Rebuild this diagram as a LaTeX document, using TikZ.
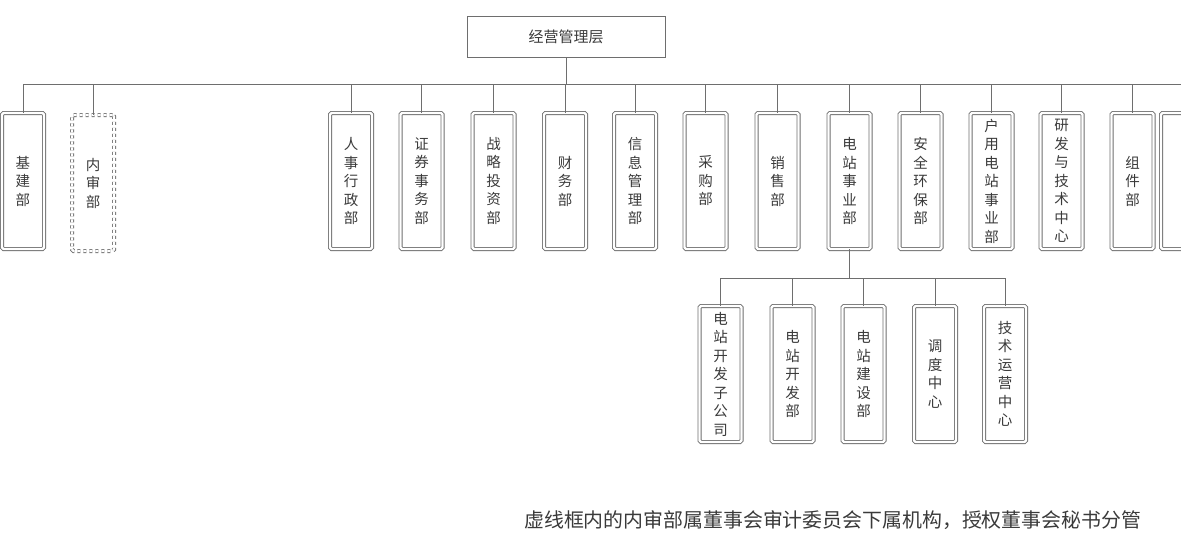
\documentclass[tikz,border=0pt]{standalone}
\usepackage{fontspec}
\setmainfont{Noto Sans CJK SC}
\definecolor{linec}{HTML}{6E6E6E}
\definecolor{txtc}{HTML}{3A3A3A}
\begin{document}
\begin{tikzpicture}[x=1pt,y=-1pt,
  dept/.style={draw=linec, double=white, double distance=2.4pt, line width=0.8pt,
    rounded corners=1.5pt, minimum width=42pt, minimum height=136pt, inner sep=0pt,
    align=center, font=\fontsize{14.5}{18.5}\selectfont, text=txtc},
  dashdept/.style={dept, dashed},
  topbox/.style={draw=linec, line width=1pt, minimum width=198pt, minimum height=41pt,
    inner sep=0pt, font=\fontsize{15}{17}\selectfont, text=txtc},
  conn/.style={draw=linec, line width=0.9pt},
  note/.style={font=\fontsize{19.9}{21}\selectfont, text=txtc, inner sep=0pt}]
\useasboundingbox (0,0) rectangle (1181,557);
\coordinate (busy) at (0,84);
\coordinate (suby) at (0,278);

\node[topbox] (top) at (566,36.5) {经营管理层};

\node[dept] (d0) at (23,181) {基\\建\\部};
\node[dashdept] (d1) at (93,183) {内\\审\\部};
\node[dept] (d2) at (351,181) {人\\事\\行\\政\\部};
\node[dept] (d3) at (421.5,181) {证\\券\\事\\务\\部};
\node[dept] (d4) at (493.5,181) {战\\略\\投\\资\\部};
\node[dept] (d5) at (565,181) {财\\务\\部};
\node[dept] (d6) at (635,181) {信\\息\\管\\理\\部};
\node[dept] (d7) at (705.5,181) {采\\购\\部};
\node[dept] (d8) at (777.5,181) {销\\售\\部};
\node[dept] (d9) at (849.5,181) {电\\站\\事\\业\\部};
\node[dept] (d10) at (920.5,181) {安\\全\\环\\保\\部};
\node[dept] (d11) at (991.5,181) {户\\用\\电\\站\\事\\业\\部};
\node[dept] (d12) at (1061.5,181) {研\\发\\与\\技\\术\\中\\心};
\node[dept] (d13) at (1132.5,181) {组\\件\\部};
\node[dept] (d14) at (1182,181) {};

\node[dept] (s1) at (720.5,374) {电\\站\\开\\发\\子\\公\\司};
\node[dept] (s2) at (792.5,374) {电\\站\\开\\发\\部};
\node[dept] (s3) at (863.5,374) {电\\站\\建\\设\\部};
\node[dept] (s4) at (935,374) {调\\度\\中\\心};
\node[dept] (s5) at (1005,374) {技\\术\\运\\营\\中\\心};

\draw[conn] (top.south) -- (top.south |- busy);
\draw[conn] (d0.north |- busy) -- (d14.north |- busy);
\foreach \n in {d0,d1,d2,d3,d4,d5,d6,d7,d8,d9,d10,d11,d12,d13,d14}{
  \draw[conn] (\n.north |- busy) -- (\n.north);
}
\draw[conn] (d9.south) -- (d9.south |- suby);
\draw[conn] (s1.north |- suby) -- (s5.north |- suby);
\foreach \n in {s1,s2,s3,s4,s5}{
  \draw[conn] (\n.north |- suby) -- (\n.north);
}

\node[note, anchor=west] (nt) at (524,520) {虚线框内的内审部属董事会审计委员会下属机构，授权董事会秘书分管};
\end{tikzpicture}
\end{document}
